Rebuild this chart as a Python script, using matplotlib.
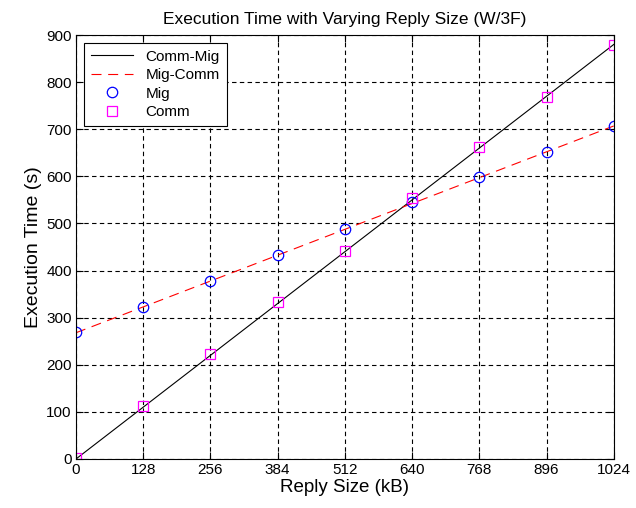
import matplotlib
matplotlib.use('Agg')
import matplotlib.pyplot as plt

plt.rcParams['font.family'] = ['Liberation Sans', 'DejaVu Sans']

# data
reply_size = [0, 128, 256, 384, 512, 640, 768, 896, 1024]
mig = [270, 323, 378, 433, 488, 545, 599, 652, 707]
comm = [3, 112, 223, 333, 441, 554, 662, 768, 879]
# end points of the two fitted lines
fit_x = [0, 1024]
comm_mig_fit = [0, 880]
mig_comm_fit = [268, 707]

fig = plt.figure(figsize=(6.36, 5.08), dpi=100)
ax = fig.add_axes([0.1195, 0.0965, 0.8455, 0.8345])

ax.plot(fit_x, comm_mig_fit, color='black', linewidth=0.8, label='Comm-Mig')
ax.plot(fit_x, mig_comm_fit, color='red', linewidth=0.8, linestyle=(0, (9, 6)), label='Mig-Comm')
ax.plot(reply_size, mig, linestyle='none', marker='o', markersize=7.5,
        markerfacecolor='none', markeredgecolor='blue', markeredgewidth=0.9, label='Mig')
ax.plot(reply_size, comm, linestyle='none', marker='s', markersize=7.5,
        markerfacecolor='none', markeredgecolor='magenta', markeredgewidth=0.9, label='Comm')

ax.set_xlim(0, 1024)
ax.set_ylim(0, 900)
ax.set_xticks(reply_size)
ax.set_yticks(range(0, 901, 100))
ax.grid(True, color='black', linestyle=(0, (4, 3)), linewidth=0.8)
ax.tick_params(direction='in', top=True, right=True, labelsize=11, length=5, pad=3)
for s in ax.spines.values():
    s.set_linewidth(0.8)

ax.set_title('Execution Time with Varying Reply Size (W/3F)', fontsize=12.5, pad=8)
ax.set_xlabel('Reply Size (kB)', fontsize=13.5, labelpad=1)
ax.set_ylabel('Execution Time (s)', fontsize=14, labelpad=3)

leg = ax.legend(loc='upper left', fontsize=11, fancybox=False, framealpha=1,
                edgecolor='black', borderaxespad=0.5, handlelength=2.8,
                labelspacing=0.3, borderpad=0.45)
leg.get_frame().set_linewidth(0.8)

fig.savefig('out.png', dpi=100)
